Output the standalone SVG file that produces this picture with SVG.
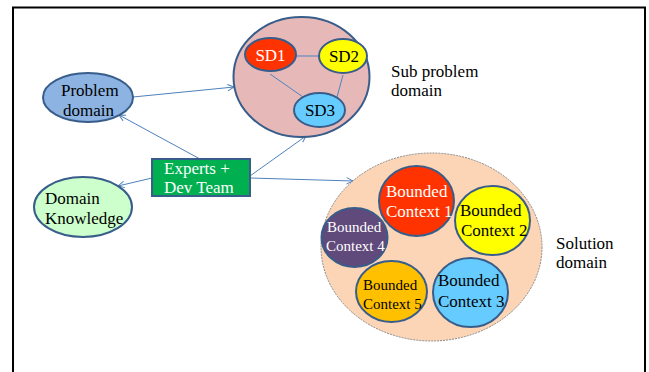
<svg xmlns="http://www.w3.org/2000/svg" width="649" height="372" viewBox="0 0 649 372" font-family="'Liberation Serif', 'Times New Roman', serif" font-size="17">
  <style>
    text { font-family: 'Liberation Serif', 'Times New Roman', serif; font-size: 17px; fill: #000; }
    text.w { fill: #fff; }
    text.sm { font-size: 15px; }
    .node { stroke: #385d8a; stroke-width: 2; }
    .link { stroke: #4f81bd; stroke-width: 1; fill: none; }
    .arrow { stroke: #4f81bd; stroke-width: 1; fill: none; marker-end: url(#open); }
  </style>
  <defs>
    <marker id="open" viewBox="0 0 10 10" refX="9" refY="5" markerWidth="8" markerHeight="8" markerUnits="userSpaceOnUse" orient="auto">
      <polyline points="1,1 9,5 1,9" fill="none" stroke="#4f81bd" stroke-width="1.2"/>
    </marker>
  </defs>

  <rect width="649" height="372" fill="#fff"/>
  <!-- page frame -->
  <rect x="13" y="7.5" width="632" height="380" fill="none" stroke="#000" stroke-width="2"/>

  <g id="connectors">
    <line class="arrow" x1="133" y1="97" x2="234" y2="87"/>
    <line class="arrow" x1="200" y1="159" x2="119" y2="115"/>
    <line class="arrow" x1="152" y1="178" x2="118" y2="186"/>
    <line class="arrow" x1="250" y1="176" x2="306" y2="136"/>
    <line class="arrow" x1="250" y1="178" x2="353" y2="181"/>
  </g>

  <g id="problem-domain">
    <ellipse class="node" cx="88" cy="97.5" rx="45" ry="24.5" fill="#8db3e2"/>
    <text x="61" y="96">Problem</text>
    <text x="63" y="116">domain</text>
  </g>

  <g id="domain-knowledge">
    <ellipse class="node" cx="83" cy="207" rx="49" ry="30" fill="#ccffcc"/>
    <text x="45" y="204">Domain</text>
    <text x="45" y="224">Knowledge</text>
  </g>

  <g id="experts-dev-team">
    <rect class="node" x="152" y="159" width="98" height="37" fill="#00b050"/>
    <text class="w" x="164" y="174">Experts +</text>
    <text class="w" x="164" y="193">Dev Team</text>
  </g>

  <g id="sub-problem-domain">
    <ellipse class="node" cx="301.5" cy="77" rx="68" ry="60" fill="#e6b9b8"/>
    <g id="sd-links">
      <line class="link" x1="296" y1="56" x2="319" y2="56"/>
      <line class="link" x1="270" y1="74" x2="303" y2="97"/>
      <line class="link" x1="343" y1="75" x2="337" y2="97"/>
    </g>
    <g id="sd1">
      <ellipse class="node" cx="270.5" cy="54.5" rx="25.5" ry="16.5" fill="#ff3300"/>
      <text class="w" x="270.5" y="60.5" text-anchor="middle">SD1</text>
    </g>
    <g id="sd2">
      <ellipse class="node" cx="343" cy="56" rx="24" ry="17" fill="#ffff00"/>
      <text x="344" y="62" text-anchor="middle">SD2</text>
    </g>
    <g id="sd3">
      <ellipse class="node" cx="319.5" cy="110" rx="25.5" ry="17" fill="#66ccff"/>
      <text x="320" y="116" text-anchor="middle">SD3</text>
    </g>
    <text x="391" y="77">Sub problem</text>
    <text x="391" y="96">domain</text>
  </g>

  <g id="solution-domain">
    <ellipse cx="431.5" cy="247" rx="110.5" ry="94" fill="#fbd5b5" stroke="#8a8a8a" stroke-width="1" stroke-dasharray="2,1"/>
    <g id="bc1">
      <ellipse class="node" cx="416.5" cy="201" rx="37.5" ry="35" fill="#ff3300"/>
      <text class="w" x="386" y="197">Bounded</text>
      <text class="w" x="386" y="217">Context 1</text>
    </g>
    <g id="bc2">
      <ellipse class="node" cx="492.5" cy="220.5" rx="37.5" ry="34.5" fill="#ffff00"/>
      <text x="460" y="216">Bounded</text>
      <text x="461" y="236">Context 2</text>
    </g>
    <g id="bc4">
      <ellipse class="node" cx="354.5" cy="237.5" rx="33" ry="29.5" fill="#604a7b"/>
      <text class="w sm" x="327" y="232">Bounded</text>
      <text class="w sm" x="326" y="251">Context 4</text>
    </g>
    <g id="bc5">
      <ellipse class="node" cx="391.5" cy="291.5" rx="35.5" ry="30.5" fill="#ffc000"/>
      <text class="sm" x="363" y="290">Bounded</text>
      <text class="sm" x="363" y="309">Context 5</text>
    </g>
    <g id="bc3">
      <ellipse class="node" cx="470.5" cy="292.5" rx="37.5" ry="34.5" fill="#66ccff"/>
      <text x="438" y="286">Bounded</text>
      <text x="438" y="307">Context 3</text>
    </g>
    <text x="556" y="249">Solution</text>
    <text x="556" y="268">domain</text>
  </g>
</svg>
